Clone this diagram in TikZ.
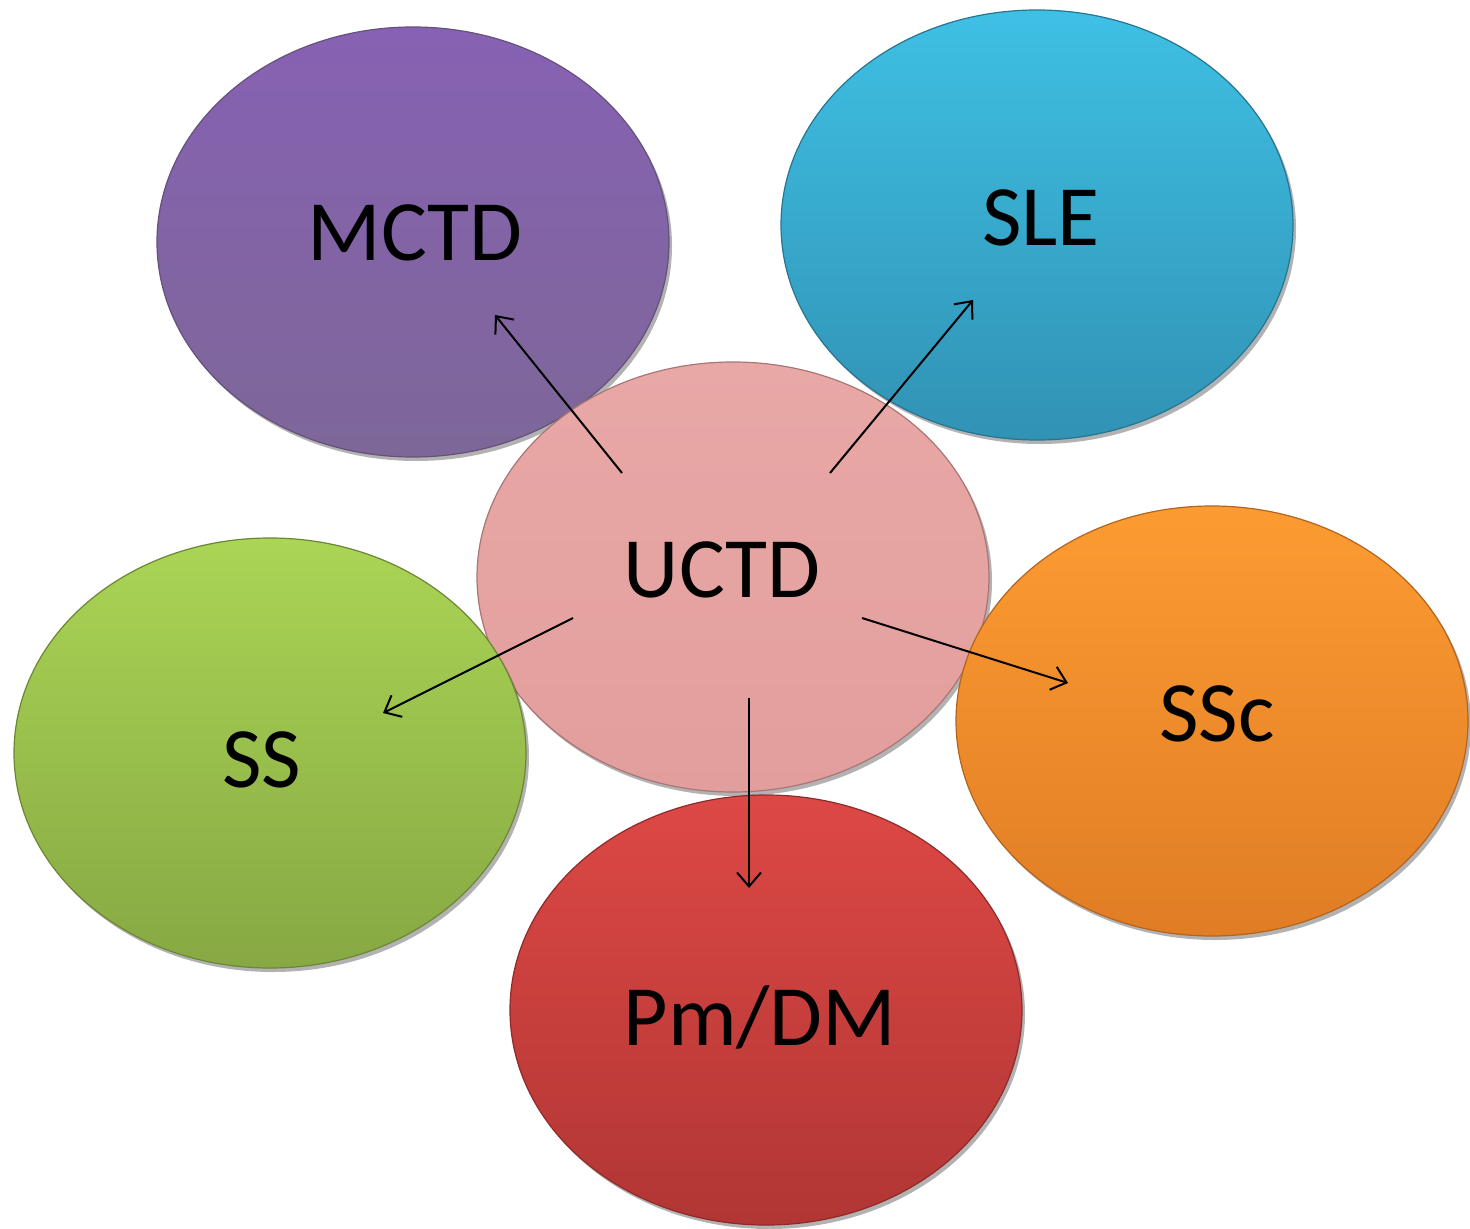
\documentclass[tikz,border=0pt]{standalone}
\usepackage{fontspec}
\setmainfont{Carlito}
\usetikzlibrary{shapes.geometric,arrows.meta,shadows}
\definecolor{purpT}{HTML}{8761B3}
\definecolor{purpB}{HTML}{7D6798}
\definecolor{cyanT}{HTML}{3EC0E4}
\definecolor{cyanB}{HTML}{3192B4}
\definecolor{pinkT}{HTML}{E8A8A6}
\definecolor{pinkB}{HTML}{E29E9D}
\definecolor{greenT}{HTML}{AAD555}
\definecolor{greenB}{HTML}{87A843}
\definecolor{orangeT}{HTML}{FD9B32}
\definecolor{orangeB}{HTML}{E07D25}
\definecolor{redT}{HTML}{DD4845}
\definecolor{redB}{HTML}{B13634}
\begin{document}
\begin{tikzpicture}[x=0.5pt,y=-0.5pt,
  bubble/.style={ellipse, minimum width=256pt, minimum height=215pt, inner sep=0pt,
    line width=0.6pt,
    drop shadow={shadow xshift=1.5pt,shadow yshift=-2pt,opacity=0.3,fill=black}},
  lbl/.style={font=\fontsize{43}{50}\selectfont, inner sep=0pt, text=black},
  arr/.style={line width=1pt, -{Straight Barb[length=7pt,width=12pt]}}]
\useasboundingbox (0,0) rectangle (1470,1229);
\fill[white] (0,0) rectangle (1470,1229);

\node[bubble, top color=purpT, bottom color=purpB, draw=purpB!80!black] (mctd) at (413,242) {};
\node[bubble, top color=cyanT, bottom color=cyanB, draw=cyanB!80!black] (sle) at (1037,225) {};
\node[bubble, top color=pinkT, bottom color=pinkB, draw=pinkB!75!black] (uctd) at (733,577) {};
\node[bubble, top color=greenT, bottom color=greenB, draw=greenB!80!black] (ss) at (270,753) {};
\node[bubble, top color=orangeT, bottom color=orangeB, draw=orangeB!80!black] (ssc) at (1212,721) {};
\node[bubble, top color=redT, bottom color=redB, draw=redB!80!black] (pmdm) at (766,1010) {};

\node[lbl] (mctdT) at (415,233) {MCTD};
\node[lbl] (sleT) at (1041,218) {SLE};
\node[lbl] (uctdT) at (722,570) {UCTD};
\node[lbl] (ssT) at (262,760) {SS};
\node[lbl] (sscT) at (1217,714) {SSc};
\node[lbl] (pmdmT) at (760,1017) {Pm/DM};

\coordinate (s1) at (622,473); \coordinate (e1) at (495,315);
\coordinate (s2) at (830,473); \coordinate (e2) at (973,300);
\coordinate (s3) at (573,618); \coordinate (e3) at (383,713);
\coordinate (s4) at (862,618); \coordinate (e4) at (1068,683);
\coordinate (s5) at (749,698); \coordinate (e5) at (749,888);

\draw[arr] (s1) -- (e1);
\draw[arr] (s2) -- (e2);
\draw[arr] (s3) -- (e3);
\draw[arr] (s4) -- (e4);
\draw[arr] (s5) -- (e5);
\end{tikzpicture}
\end{document}
